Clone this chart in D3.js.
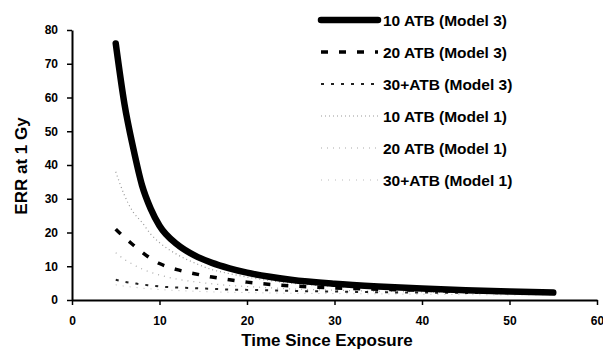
<!DOCTYPE html>
<html>
<head>
<meta charset="utf-8">
<script src="https://cdn.jsdelivr.net/npm/d3@7"></script>
<style>
  body { margin: 0; background: #fff; }
  text { font-family: "Liberation Sans", Arial, sans-serif; font-weight: bold; }
</style>
</head>
<body>
<div id="canvas"></div>
<script>
"use strict"

// canvas size
let svgWidth = 603;
let svgHeight = 350;

// plot area edges (pixels)
let plotLeft = 72;
let plotRight = 597;
let plotTop = 30;
let plotBottom = 300;

// DATA

let years = [5, 6, 7, 8, 9, 10, 12, 14, 16, 18, 20, 25, 30, 35, 40, 45, 50, 55];

let atb10m3 = [76, 58, 45, 34, 27, 22, 16.5, 13.2, 11.0, 9.4, 8.1, 6.0, 4.8, 4.0, 3.4, 2.9, 2.5, 2.2];
let atb20m3 = [21, 18.5, 16.3, 14.2, 12.3, 10.8, 9, 7.8, 6.8, 6, 5.3, 4.2, 3.6, 3.2, 2.9, 2.6, 2.4, 2.2];
let atb30m3 = [6, 5.4, 5, 4.6, 4.3, 4, 3.7, 3.5, 3.3, 3.1, 3, 2.7, 2.5, 2.3, 2.2, 2.1, 2, 1.9];
let atb10m1 = [38, 31, 26, 23, 19.5, 17, 13.5, 11, 9, 7.8, 6.8, 5, 4, 3.4, 3, 2.6, 2.3, 2.1];
let atb20m1 = [14, 12, 10.5, 9.2, 8.2, 7.4, 6.2, 5.4, 4.8, 4.3, 4, 3.3, 2.9, 2.6, 2.4, 2.2, 2.0, 1.9];
let atb30m1 = [4.5, 4.1, 3.8, 3.5, 3.3, 3.1, 2.8, 2.6, 2.4, 2.3, 2.2, 2.0, 1.9, 1.8, 1.7, 1.6, 1.5, 1.5];

let seriesNames = ["10 ATB (Model 3)", "20 ATB (Model 3)", "30+ATB (Model 3)",
                   "10 ATB (Model 1)", "20 ATB (Model 1)", "30+ATB (Model 1)"];
let seriesValues = [atb10m3, atb20m3, atb30m3, atb10m1, atb20m1, atb30m1];

let xTicks = [0, 10, 20, 30, 40, 50, 60];
let yTicks = [0, 10, 20, 30, 40, 50, 60, 70, 80];

// line styles per series (same order as names)
let lineStyles = [
    { color: "#000", width: 6.5, dash: null },
    { color: "#000", width: 3.5, dash: "7 11" },
    { color: "#222", width: 2, dash: "3 7" },
    { color: "#999", width: 1.2, dash: "1 3" },
    { color: "#aaa", width: 1.2, dash: "1 5" },
    { color: "#bbb", width: 1, dash: "1 6" }
];

let svg = d3.select("#canvas")
    .append("svg")
    .attr("width", svgWidth)
    .attr("height", svgHeight);

// SCALES
let xScale = d3.scaleLinear().domain([0, 60]).range([plotLeft, plotRight]);
let yScale = d3.scaleLinear().domain([0, 80]).range([plotBottom, plotTop]);

// AXES
let xAxis = svg.append("g")
    .attr("transform", "translate(0," + plotBottom + ")")
    .call(d3.axisBottom(xScale).tickValues(xTicks).tickSize(5).tickSizeOuter(0));

let yAxis = svg.append("g")
    .attr("transform", "translate(" + plotLeft + ",0)")
    .call(d3.axisLeft(yScale).tickValues(yTicks).tickSize(5).tickSizeOuter(0));

svg.selectAll(".domain").attr("stroke", "#000").attr("stroke-width", 2);
svg.selectAll(".tick line").attr("stroke", "#000").attr("stroke-width", 1.5);
svg.selectAll(".tick text")
    .style("font-size", "12px")
    .style("font-family", "'Liberation Sans', Arial, sans-serif")
    .style("font-weight", "bold")
    .attr("fill", "#000");
xAxis.selectAll(".tick text").attr("dy", "1.45em");
yAxis.selectAll(".tick text").attr("dx", "-0.5em");

// axis titles
svg.append("text")
    .attr("x", 327)
    .attr("y", 346)
    .attr("text-anchor", "middle")
    .style("font-size", "17px")
    .text("Time Since Exposure");

svg.append("text")
    .attr("transform", "rotate(-90)")
    .attr("x", -166)
    .attr("y", 27)
    .attr("text-anchor", "middle")
    .style("font-size", "17px")
    .text("ERR at 1 Gy");

// CURVES
let line = d3.line()
    .x(function (d) { return xScale(d[0]); })
    .y(function (d) { return yScale(d[1]); })
    .curve(d3.curveMonotoneX);

// draw model 1 first so model 3 lines sit on top
for (let i = seriesValues.length - 1; i >= 0; i--) {
    let pts = years.map(function (t, j) { return [t, seriesValues[i][j]]; });
    svg.append("path")
        .attr("d", line(pts))
        .attr("fill", "none")
        .attr("stroke", lineStyles[i].color)
        .attr("stroke-width", lineStyles[i].width)
        .attr("stroke-dasharray", lineStyles[i].dash)
        .attr("stroke-linecap", i == 0 ? "round" : "butt");
}

// LEGEND
for (let i = 0; i < seriesNames.length; i++) {
    let ly = 20 + i * 32;
    svg.append("line")
        .attr("x1", 321)
        .attr("x2", 378)
        .attr("y1", ly)
        .attr("y2", ly)
        .attr("stroke", lineStyles[i].color)
        .attr("stroke-width", lineStyles[i].width)
        .attr("stroke-dasharray", lineStyles[i].dash)
        .attr("stroke-linecap", i == 0 ? "round" : "butt");
    svg.append("text")
        .attr("x", 383)
        .attr("y", ly)
        .attr("dy", "0.36em")
        .style("font-size", "15.5px")
        .text(seriesNames[i]);
}
</script>
</body>
</html>
